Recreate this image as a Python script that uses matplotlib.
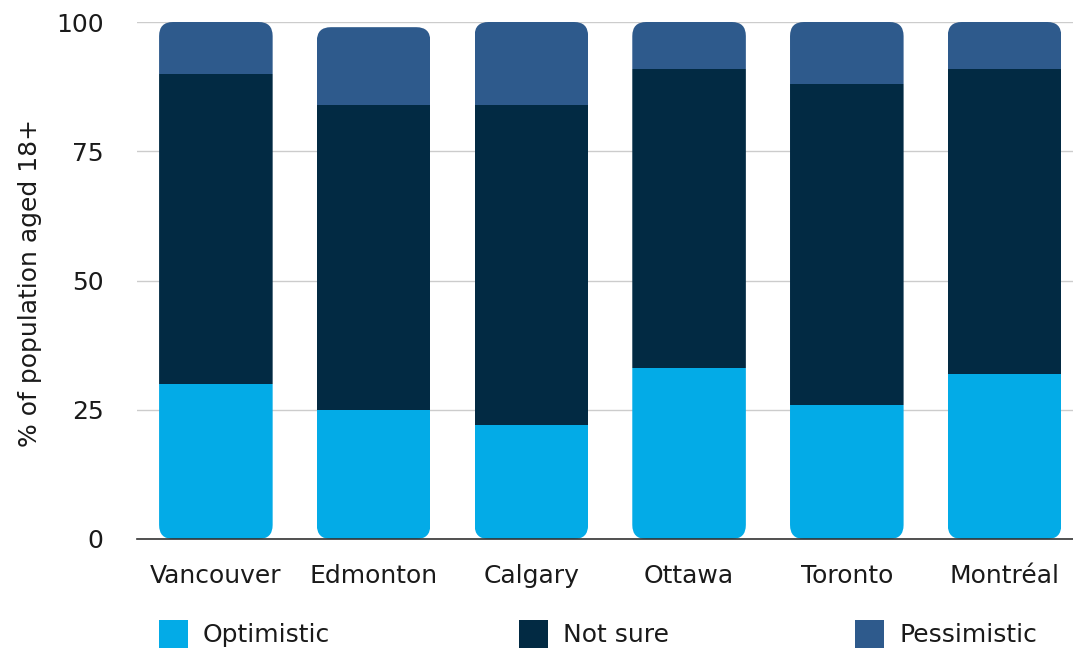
import matplotlib
matplotlib.use("Agg")
import matplotlib.pyplot as plt
from matplotlib.patches import FancyBboxPatch, Rectangle

cities = ["Vancouver", "Edmonton", "Calgary", "Ottawa", "Toronto", "Montréal"]
optimistic = [30, 25, 22, 33, 26, 32]
not_sure = [60, 59, 62, 58, 62, 59]
pessimistic = [10, 15, 16, 9, 12, 9]
series_names = ["Optimistic", "Not sure", "Pessimistic"]
colors = ["#03ABE7", "#022A43", "#2E5A8C"]
yticks = [0, 25, 50, 75, 100]

plt.rcParams['font.family'] = ['DejaVu Sans']
W, H = 1073, 652
fig = plt.figure(figsize=(W / 100, H / 100), dpi=100)
ax = fig.add_axes([137 / W, 1 - 539 / H, (W - 137) / W, (539 - 22) / H])

x = list(range(len(cities)))
width = 0.72
ax.set_xlim(-0.5, 5.434)
ax.set_ylim(0, 100)

xpx = (W - 137) / (5.434 + 0.5)
ypx = (539 - 22) / 100.0
r = 14

bottoms = [0] * len(cities)
all_bars = []
for vals, c in zip([optimistic, not_sure, pessimistic], colors):
    bars = ax.bar(x, vals, width, bottom=bottoms, color=c, linewidth=0, zorder=3)
    all_bars.append(bars)
    bottoms = [b + v for b, v in zip(bottoms, vals)]

for i, xi in enumerate(x):
    clip = FancyBboxPatch((xi - width / 2, 0), width, bottoms[i],
                          boxstyle=f"round,pad=0,rounding_size={r / xpx}",
                          mutation_aspect=xpx / ypx,
                          transform=ax.transData, facecolor='none', edgecolor='none')
    for bars in all_bars:
        bars[i].set_clip_path(clip)

txt = '#1a1a1a'
ax.set_yticks(yticks)
ax.set_xticks(x)
ax.set_xticklabels(cities)
ax.tick_params(axis='both', length=0, labelsize=18, colors=txt)
ax.tick_params(axis='y', pad=24)
ax.tick_params(axis='x', pad=18)
ax.grid(axis='y', color='#cccccc', linewidth=1, zorder=0)
for s in ['top', 'right', 'left']:
    ax.spines[s].set_visible(False)
ax.spines['bottom'].set_color('#333333')
ax.spines['bottom'].set_linewidth(1.2)
ax.spines['bottom'].set_zorder(4)
ax.set_ylabel("% of population aged 18+", fontsize=18, color=txt)
ax.yaxis.set_label_coords(-(137 - 42) / (W - 137), (539 - 283) / (539 - 22))

leg_x = [159, 519, 855]
for lx, name, c in zip(leg_x, series_names, colors):
    fig.patches.append(Rectangle((lx / W, 1 - 648 / H), 29 / W, 28 / H,
                                 transform=fig.transFigure, facecolor=c, edgecolor='none'))
    fig.text((lx + 44) / W, 1 - 635 / H, name, fontsize=18, color=txt,
             va='center', ha='left')

fig.savefig("out.png", dpi=100)
